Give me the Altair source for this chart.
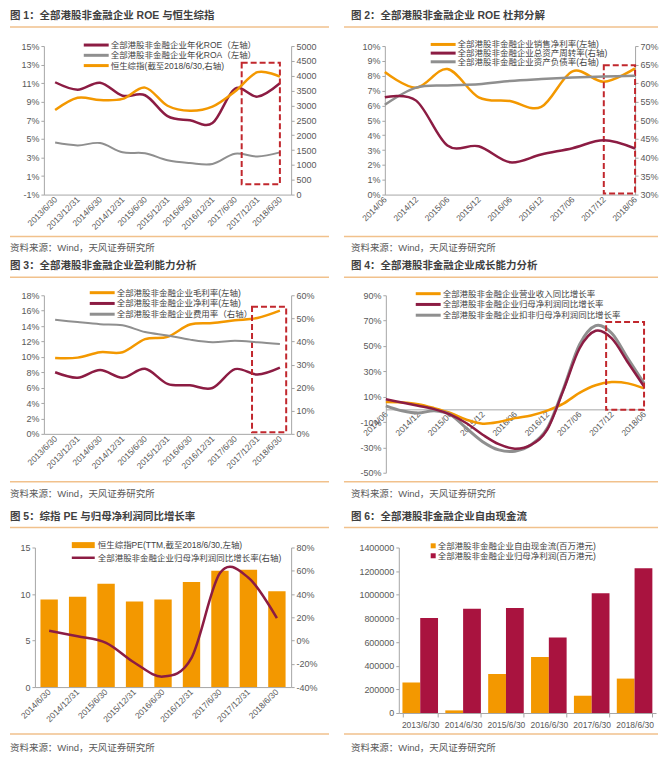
import json
import altair as alt
import pandas as pd

FONT = "Liberation Sans, Noto Sans CJK SC, sans-serif"
ORANGE = "#F39800"
MAROON = "#8C1C43"
GRAY = "#8F8F8F"
RED = "#C1272D"
CRIMSON = "#A9133F"
RULE = "#F1C18C"
TXT = "#3F3F3F"
SUB = "#595959"
AX = "#A6A6A6"
EDGE = "#FFFFFF"
PW, PH = 325, 251

SOURCE = "资料来源：Wind，天风证券研究所"

# ---------------- Figure 1 ----------------
t1 = "图 1：全部港股非金融企业 ROE 与恒生综指"
p1_dates = ["2013/6/30", "2013/12/31", "2014/6/30", "2014/12/31", "2015/6/30", "2015/12/31",
            "2016/6/30", "2016/12/31", "2017/6/30", "2017/12/31", "2018/6/30"]
p1_names = ["全部港股非金融企业年化ROE（左轴）", "全部港股非金融企业年化ROA（左轴）", "恒生综指(截至2018/6/30,右轴)"]
p1_roe = [11.1, 10.3, 11.05, 9.65, 9.7, 7.45, 7.0, 6.7, 10.4, 9.55, 11.0]
p1_roa = [4.6, 4.3, 4.55, 3.55, 3.45, 2.7, 2.4, 2.3, 3.4, 3.1, 3.55]
p1_hsi = [2850, 3260, 3180, 3220, 3600, 2990, 2820, 2960, 3470, 4120, 3970]
p1_box = [8.3, 10.0, 0.1, 13.2]

# ---------------- Figure 2 ----------------
t2 = "图 2：全部港股非金融企业 ROE 杜邦分解"
p2_dates = ["2014/06", "2014/12", "2015/06", "2015/12", "2016/06", "2016/12", "2017/06", "2017/12", "2018/06"]
p2_names = ["全部港股非金融企业销售净利率(左轴)", "全部港股非金融企业总资产周转率(右轴)", "全部港股非金融企业资产负债率(右轴)"]
p2_margin = [8.25, 7.2, 8.45, 6.55, 6.3, 5.9, 8.3, 7.6, 8.5]
p2_turnover = [56.2, 55.3, 43.2, 43.0, 38.7, 40.8, 42.5, 44.6, 42.4]
p2_debt = [54.2, 58.8, 59.4, 59.7, 60.6, 61.1, 61.5, 61.8, 62.0]
p2_box = [7.0, 8.0, 0.07, 8.7]

# ---------------- Figure 3 ----------------
t3 = "图 3：全部港股非金融企业盈利能力分析"
p3_dates = p1_dates
p3_names = ["全部港股非金融企业毛利率(左轴)", "全部港股非金融企业净利率(左轴)", "全部港股非金融企业费用率（右轴）"]
p3_gross = [9.85, 9.9, 10.6, 10.6, 12.3, 12.6, 14.2, 14.4, 14.75, 15.05, 16.0]
p3_net = [8.0, 7.3, 8.3, 7.3, 8.45, 6.5, 6.3, 5.95, 8.4, 7.7, 8.6]
p3_exp = [49.4, 48.4, 47.5, 47.0, 44.1, 42.6, 40.8, 39.7, 40.3, 39.7, 38.9]
p3_box = [8.76, 10.28, 0.2, 16.5]

# ---------------- Figure 4 ----------------
t4 = "图 4：全部港股非金融企业成长能力分析"
p4_quarters = ["2014/06", "2014/09", "2014/12", "2015/03", "2015/06", "2015/09", "2015/12", "2016/03",
               "2016/06", "2016/09", "2016/12", "2017/03", "2017/06", "2017/09", "2017/12", "2018/03", "2018/06"]
p4_names = ["全部港股非金融企业营业收入同比增长率", "全部港股非金融企业归母净利润同比增长率", "全部港股非金融企业扣非归母净利润同比增长率"]
p4_rev = [5.7, 5.4, 4.1, 1.0, -2.9, -8.2, -11.3, -10.0, -6.9, -4.8, -1.0, 4.5, 13.0, 19.0, 21.5, 20.5, 16.5]
p4_np = [8.0, 5.4, 2.8, 0.2, -4.2, -11.0, -20.0, -27.5, -31.0, -28.0, -16.0, 15.0, 48.0, 62.0, 56.0, 37.0, 18.0]
p4_np_ex = [2.8, -1.1, -2.9, -1.1, -4.2, -15.0, -25.5, -32.0, -33.0, -28.0, -15.0, 16.0, 51.0, 66.0, 60.0, 40.0, 20.5]
p4_box = [13.65, 16.0, -0.3, 69.0]

# ---------------- Figure 5 ----------------
t5 = "图 5：综指 PE 与归母净利润同比增长率"
p5_dates = ["2014/6/30", "2014/12/31", "2015/6/30", "2015/12/31", "2016/6/30", "2016/12/31",
            "2017/6/30", "2017/12/31", "2018/6/30"]
p5_names = ["恒生综指PE(TTM,截至2018/6/30,左轴)", "全部港股非金融企业归母净利润同比增长率(右轴)"]
p5_pe = [9.4, 9.7, 11.1, 9.2, 9.4, 11.3, 12.5, 12.6, 10.3]
p5_growth = [8.5, 3.7, -2.0, -19.1, -31.0, -14.9, 58.0, 54.0, 19.3]

# ---------------- Figure 6 ----------------
t6 = "图 6：全部港股非金融企业自由现金流"
p6_dates = ["2013/6/30", "2014/6/30", "2015/6/30", "2016/6/30", "2017/6/30", "2018/6/30"]
p6_names = ["全部港股非金融企业自由现金流(百万港元)", "全部港股非金融企业归母净利润(百万港元)"]
p6_fcf = [258000, 22000, 330000, 473000, 146000, 291000]
p6_np = [804000, 882000, 888000, 639000, 1014000, 1224000]

one = pd.DataFrame({"k": [0]})


def txt(s, x, y, size, color, weight="normal"):
    return alt.Chart(one).mark_text(text=s, font=FONT, fontSize=size, color=color, fontWeight=weight,
                                    align="left", baseline="middle").encode(x=alt.value(x), y=alt.value(y))


def hline(x0, x1, y, color, w=1.0):
    return alt.Chart(one).mark_rule(color=color, strokeWidth=w, strokeCap="butt").encode(
        x=alt.value(x0), x2=alt.value(x1), y=alt.value(y))


def vline(x, y0, y1, color, w=1.0):
    return alt.Chart(one).mark_rule(color=color, strokeWidth=w, strokeCap="butt").encode(
        x=alt.value(x), y=alt.value(y0), y2=alt.value(y1))


def box(x0, x1, y0, y1, color):
    return alt.Chart(one).mark_rect(color=color).encode(
        x=alt.value(x0), x2=alt.value(x1), y=alt.value(y0), y2=alt.value(y1))


def frame(L, T, col, title, rule_bot, src_y):
    dx = 0 if col == 0 else 17
    r0, r1 = (0, 320) if col == 0 else (10, PW)
    return [
        vline(-L + 0.25, -T + 0.25, PH - T - 0.25, EDGE, 0.5),
        vline(PW - L - 0.25, -T + 0.25, PH - T - 0.25, EDGE, 0.5),
        hline(-L + 0.25, PW - L - 0.25, PH - T - 0.25, EDGE, 0.5),
        hline(-L + 0.25, PW - L - 0.25, -T + 0.25, EDGE, 0.5),
        txt(title, -L + dx, 7 - T, 10.5, TXT, "bold"),
        hline(r0 - L, r1 - L, 18 - T, RULE, 1.5),
        hline(r0 - L, r1 - L, rule_bot - T, RULE, 1.5),
        txt(SOURCE, -L + dx, src_y - T, 9.5, SUB),
    ]


def legend_lines(names, colors, x0, y0, dy, length=25, w=3, size=8.5):
    out = []
    for i, (n, c) in enumerate(zip(names, colors)):
        y = y0 + i * dy
        out.append(hline(x0, x0 + length, y, c, w))
        out.append(txt(n, x0 + length + 2, y, size, TXT))
    return out


def yaxis(values, orient, pct=True, fmt=None):
    kw = dict(orient=orient, values=values, title=None, grid=False, domain=True, ticks=True, tickSize=3,
              domainColor=AX, tickColor=AX, labelColor=SUB, labelFont=FONT, labelFontSize=9, labelPadding=2,
              labelOverlap=False)
    if pct:
        kw["labelExpr"] = "datum.value + '%'"
    if fmt:
        kw["format"] = fmt
    return alt.Axis(**kw)


def xaxis_idx(labels, values, offset=0):
    return alt.Axis(values=values, labelExpr=f"{json.dumps(labels)}[datum.value]", labelAngle=-45,
                    labelAlign="right", labelBaseline="middle", labelFlush=False, labelOverlap=False,
                    ticks=False, domainColor=AX, labelColor=SUB, labelFont=FONT, labelFontSize=8.5,
                    labelPadding=3, title=None, grid=False, offset=offset)


def line(df, xfield, field, color, xscale, xax, yscale, yax, w=2.5):
    return alt.Chart(df).mark_line(color=color, strokeWidth=w, interpolate="cardinal").encode(
        x=alt.X(f"{xfield}:Q", scale=xscale, axis=xax),
        y=alt.Y(f"{field}:Q", scale=yscale, axis=yax))


def box_rect(vals, xscale, xax, yscale, yax):
    df = pd.DataFrame({"x0": [vals[0]], "x1": [vals[1]], "y0": [vals[2]], "y1": [vals[3]]})
    return alt.Chart(df).mark_rect(filled=False, color=RED, strokeWidth=2, strokeDash=[6, 3]).encode(
        x=alt.X("x0:Q", scale=xscale, axis=xax), x2="x1:Q",
        y=alt.Y("y0:Q", scale=yscale, axis=yax), y2="y1:Q")


# ---------------- Panel 1 ----------------
L, T, W, H = 34, 37, 248, 149
df1 = pd.DataFrame({"i": list(range(len(p1_dates))), "roe": p1_roe, "roa": p1_roa, "hsi": p1_hsi})
xs1 = alt.Scale(domain=[-0.5, 10.5], nice=False, zero=False)
xa1 = xaxis_idx(p1_dates, list(range(11)))
ys1l = alt.Scale(domain=[-1, 15], nice=False, zero=False)
ya1l = yaxis(list(range(-1, 16, 2)), "left")
ys1r = alt.Scale(domain=[0, 5000], nice=False, zero=False)
ya1r = yaxis(list(range(0, 5001, 500)), "right", pct=False, fmt="d")
left1 = alt.layer(
    line(df1, "i", "roa", GRAY, xs1, xa1, ys1l, ya1l, 2),
    line(df1, "i", "roe", MAROON, xs1, xa1, ys1l, ya1l),
    box_rect(p1_box, xs1, xa1, ys1l, ya1l),
)
right1 = alt.layer(line(df1, "i", "hsi", ORANGE, xs1, xa1, ys1r, ya1r))
p1 = alt.layer(left1, right1, *frame(L, T, 0, t1, 228, 240),
               *legend_lines(p1_names, [MAROON, GRAY, ORANGE], 40, -1, 10.3)
               ).resolve_scale(y="independent").properties(width=W, height=H)

# ---------------- Panel 2 ----------------
L, T, W, H = 51, 37, 251, 149
df2 = pd.DataFrame({"i": list(range(len(p2_dates))), "m": p2_margin, "t": p2_turnover, "d": p2_debt})
xs2 = alt.Scale(domain=[0, 8], nice=False, zero=False)
xa2 = xaxis_idx(p2_dates, list(range(9)))
ys2l = alt.Scale(domain=[0, 10], nice=False, zero=False)
ya2l = yaxis(list(range(0, 11)), "left")
ys2r = alt.Scale(domain=[30, 70], nice=False, zero=False)
ya2r = yaxis(list(range(30, 71, 5)), "right")
left2 = alt.layer(
    line(df2, "i", "m", ORANGE, xs2, xa2, ys2l, ya2l),
    box_rect(p2_box, xs2, xa2, ys2l, ya2l),
)
right2 = alt.layer(
    line(df2, "i", "d", GRAY, xs2, xa2, ys2r, ya2r),
    line(df2, "i", "t", MAROON, xs2, xa2, ys2r, ya2r),
)
p2 = alt.layer(left2, right2, *frame(L, T, 1, t2, 228, 240),
               *legend_lines(p2_names, [ORANGE, MAROON, GRAY], 46, -1.6, 8.7)
               ).resolve_scale(y="independent").properties(width=W, height=H)

# ---------------- Panel 3 ----------------
L, T, W, H = 34, 36, 248, 139
df3 = pd.DataFrame({"i": list(range(len(p3_dates))), "g": p3_gross, "n": p3_net, "e": p3_exp})
xs3 = alt.Scale(domain=[-0.5, 10.5], nice=False, zero=False)
xa3 = xaxis_idx(p3_dates, list(range(11)))
ys3l = alt.Scale(domain=[0, 18], nice=False, zero=False)
ya3l = yaxis(list(range(0, 19, 2)), "left")
ys3r = alt.Scale(domain=[0, 60], nice=False, zero=False)
ya3r = yaxis(list(range(0, 61, 10)), "right")
left3 = alt.layer(
    line(df3, "i", "g", ORANGE, xs3, xa3, ys3l, ya3l),
    line(df3, "i", "n", MAROON, xs3, xa3, ys3l, ya3l),
    box_rect(p3_box, xs3, xa3, ys3l, ya3l),
)
right3 = alt.layer(line(df3, "i", "e", GRAY, xs3, xa3, ys3r, ya3r, 2))
p3 = alt.layer(left3, right3, *frame(L, T, 0, t3, 223, 235),
               *legend_lines(p3_names, [ORANGE, MAROON, GRAY], 46, -2.6, 10.8)
               ).resolve_scale(y="independent").properties(width=W, height=H)

# ---------------- Panel 4 ----------------
L, T, W, H = 52, 36, 259, 178
df4 = pd.DataFrame({"i": list(range(len(p4_quarters))), "r": p4_rev, "n": p4_np, "x": p4_np_ex})
xs4 = alt.Scale(domain=[0, 16], nice=False, zero=False)
ys4 = alt.Scale(domain=[-50, 90], nice=False, zero=False)
zero_off = -(H - H * 90 / 140)
xa4 = xaxis_idx(p4_quarters, list(range(0, 17, 2)), offset=zero_off)
ya4 = yaxis(list(range(-50, 91, 20)), "left")
p4 = alt.layer(
    line(df4, "i", "r", ORANGE, xs4, xa4, ys4, ya4),
    line(df4, "i", "x", GRAY, xs4, xa4, ys4, ya4, 3),
    line(df4, "i", "n", MAROON, xs4, xa4, ys4, ya4),
    box_rect(p4_box, xs4, xa4, ys4, ya4),
    *frame(L, T, 1, t4, 223, 235),
    *legend_lines(p4_names, [ORANGE, MAROON, GRAY], 30, -1.6, 10.8),
).properties(width=W, height=H)

# ---------------- Panel 5 ----------------
L, T, W, H = 25, 38, 257, 140
df5 = pd.DataFrame({"d": p5_dates, "pe": p5_pe, "g": p5_growth})
xs5 = alt.Scale(paddingInner=0.39, paddingOuter=0.195)
xa5 = alt.Axis(labelAngle=-45, labelAlign="right", labelBaseline="middle", labelOverlap=False,
               ticks=False, domainColor=AX, labelColor=SUB, labelFont=FONT, labelFontSize=8.5,
               labelPadding=3, title=None, grid=False)
ys5l = alt.Scale(domain=[0, 15], nice=False, zero=False)
ys5r = alt.Scale(domain=[-40, 80], nice=False, zero=False)
bars5 = alt.Chart(df5).mark_bar(color=ORANGE).encode(
    x=alt.X("d:N", sort=None, scale=xs5, axis=xa5),
    y=alt.Y("pe:Q", scale=ys5l, axis=yaxis([0, 5, 10, 15], "left", pct=False)))
line5 = alt.Chart(df5).mark_line(color=MAROON, strokeWidth=2.5, interpolate="cardinal").encode(
    x=alt.X("d:N", sort=None, scale=xs5, axis=xa5, bandPosition=0.5),
    y=alt.Y("g:Q", scale=ys5r, axis=yaxis(list(range(-40, 81, 20)), "right")))
leg5 = [
    box(37, 60, -5.4, 0.6, ORANGE), txt(p5_names[0], 63, -2.4, 8.5, TXT),
    hline(37, 60, 10.3, MAROON, 2.5), txt(p5_names[1], 63, 10.3, 8.5, TXT),
]
p5 = alt.layer(bars5, line5, *frame(L, T, 0, t5, 225, 239), *leg5
               ).resolve_scale(y="independent").properties(width=W, height=H)

# ---------------- Panel 6 ----------------
L, T, W, H = 65, 38, 258, 166
df6 = pd.DataFrame({
    "d": p6_dates * 2,
    "s": [p6_names[0]] * len(p6_dates) + [p6_names[1]] * len(p6_dates),
    "v": p6_fcf + p6_np,
})
bars6 = alt.Chart(df6).mark_bar().encode(
    x=alt.X("d:N", sort=None, scale=alt.Scale(paddingInner=0.17, paddingOuter=0.085),
            axis=alt.Axis(labelAngle=0, labelOverlap=False, ticks=True, tickBand="extent", tickSize=4,
                          tickColor=AX, domainColor=AX, labelColor=SUB,
                          labelFont=FONT, labelFontSize=8.5, labelPadding=4, title=None, grid=False)),
    xOffset=alt.XOffset("s:N", sort=p6_names, scale=alt.Scale(domain=p6_names)),
    y=alt.Y("v:Q", scale=alt.Scale(domain=[0, 1400000], nice=False),
            axis=yaxis(list(range(0, 1400001, 200000)), "left", pct=False, fmt="d")),
    color=alt.Color("s:N", scale=alt.Scale(domain=p6_names, range=[ORANGE, CRIMSON]), legend=None),
)
leg6 = [
    box(32, 37, -4.2, 0.8, ORANGE), txt(p6_names[0], 39, -1.7, 8.5, TXT),
    box(32, 37, 5.8, 10.8, CRIMSON), txt(p6_names[1], 39, 8.3, 8.5, TXT),
]
p6 = alt.layer(bars6, *frame(L, T, 1, t6, 225, 239), *leg6).properties(width=W, height=H)


def spacer():
    # zero-extent first cell so that each row is packed by its panels' outer bounds
    return alt.Chart(one).mark_rule(color=EDGE, strokeWidth=0).encode(
        x=alt.value(0), y=alt.value(0), y2=alt.value(0)).properties(width=1, height=1)


row1 = alt.hconcat(spacer(), p1, p2, spacing=0)
row2 = alt.hconcat(spacer(), p3, p4, spacing=0)
row3 = alt.hconcat(spacer(), p5, p6, spacing=0)
chart = alt.vconcat(row1, row2, row3, spacing=0).properties(
    padding=0, background="white").configure_view(stroke=None)

chart.save("out.html", embed_options={"renderer": "svg", "actions": False})
